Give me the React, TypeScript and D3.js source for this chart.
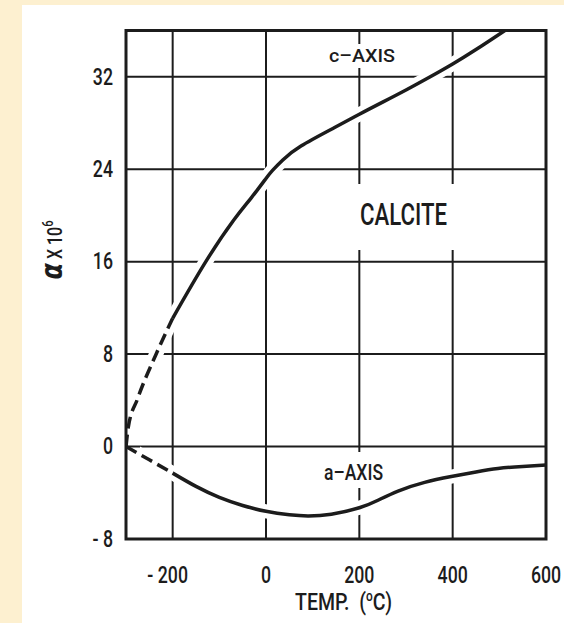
import React from "react";
import * as d3 from "d3";

const xTicks = [-200, 0, 200, 400, 600];
const yTicks = [-8, 0, 8, 16, 24, 32];
const xGrid = [-200, 0, 200, 400];
const yGrid = [0, 8, 16, 24, 32];

const cTemp = [-300, -295, -276, -236, -200, -129, -69, -32, 0, 14, 36, 75, 147, 200, 250, 300, 350, 400, 450, 512];
const cAlpha = [0, 1.7, 4.05, 7.95, 11.1, 16.0, 19.6, 21.5, 23.2, 23.9, 24.8, 26.0, 27.6, 28.75, 29.8, 30.85, 31.95, 33.1, 34.35, 36.0];

const aTemp = [-300, -250, -200, -150, -100, -50, 0, 50, 90, 140, 200, 240, 283, 340, 397, 450, 497, 550, 600];
const aAlpha = [0, -1.15, -2.3, -3.45, -4.4, -5.1, -5.6, -5.9, -6.0, -5.85, -5.3, -4.65, -3.85, -3.1, -2.6, -2.2, -1.9, -1.72, -1.6];

const dashEnd = -200;

const W = 564;
const H = 623;
const INK = "#1c1c1c";
const FONT = "Roboto, 'Liberation Sans', sans-serif";

export default function App() {
  const x = d3.scaleLinear().domain([-300, 600]).range([126, 546]);
  const y = d3.scaleLinear().domain([-8, 36]).range([539, 30.5]);

  const cPts: [number, number][] = cTemp.map((t, i) => [t, cAlpha[i]]);
  const aPts: [number, number][] = aTemp.map((t, i) => [t, aAlpha[i]]);

  const lineDash = d3.line<[number, number]>().x(d => x(d[0])).y(d => y(d[1])).curve(d3.curveMonotoneX);
  const lineSmooth = d3.line<[number, number]>().x(d => x(d[0])).y(d => y(d[1])).curve(d3.curveNatural);

  const cDash = cPts.filter(p => p[0] <= dashEnd);
  const cSolid = cPts.filter(p => p[0] >= dashEnd);
  const aDash = aPts.filter(p => p[0] <= dashEnd);
  const aSolid = aPts.filter(p => p[0] >= dashEnd);

  const [x0, x1] = x.range();
  const [y0, y1] = y.range();

  const tickLabel = (t: number) => (t < 0 ? "- " + Math.abs(t) : String(t));

  return (
    <svg width={W} height={H} style={{ position: "absolute", left: 0, top: 0 }}>
      <defs>
        <clipPath id="plot">
          <rect x={x0} y={y1} width={x1 - x0} height={y0 - y1} />
        </clipPath>
        <clipPath id="halo">
          <rect x={x0 + 14} y={y1} width={x1 - x0 - 14} height={y0 - y1} />
        </clipPath>
      </defs>
      <rect x={0} y={0} width={W} height={H} fill="#fdf0d0" />
      <rect x={22} y={5} width={W - 22} height={H - 5} fill="#ffffff" />

      {xGrid.map(t => (
        <line key={"gx" + t} x1={x(t)} x2={x(t)} y1={y1} y2={y0} stroke={INK} strokeWidth={2} />
      ))}
      {yGrid.map(t => (
        <line key={"gy" + t} x1={x0} x2={x1} y1={y(t)} y2={y(t)} stroke={INK} strokeWidth={2} />
      ))}

      <rect x={325} y={44} width={78} height={24} fill="#fff" />
      <rect x={335} y={184} width={140} height={66} fill="#fff" />
      <rect x={318} y={452} width={72} height={36} fill="#fff" />

      <g clipPath="url(#halo)" fill="none" stroke="#fff" strokeWidth={14}>
        <path d={lineDash(cDash) || ""} />
        <path d={lineSmooth(cSolid) || ""} />
        <path d={lineDash(aDash) || ""} />
        <path d={lineSmooth(aSolid) || ""} />
      </g>

      <rect x={x0} y={y1} width={x1 - x0} height={y0 - y1} fill="none" stroke={INK} strokeWidth={3} />

      <g clipPath="url(#plot)" fill="none" stroke={INK} strokeWidth={3.5}>
        <path d={lineDash(cDash) || ""} strokeDasharray="12 6" />
        <path d={lineSmooth(cSolid) || ""} />
        <path d={lineDash(aDash) || ""} strokeDasharray="12 6" />
        <path d={lineSmooth(aSolid) || ""} />
      </g>

      <g fontFamily={FONT} fill={INK} fontSize={23} fontWeight={500}>
        {yTicks.map(t => (
          <text key={"ty" + t} transform={`translate(113,${y(t)}) scale(0.77,1)`} textAnchor="end" dominantBaseline="central">
            {tickLabel(t)}
          </text>
        ))}
        {xTicks.map(t => (
          <text key={"tx" + t} transform={`translate(${x(t) + (t < 0 ? -5 : 0)},575) scale(0.77,1)`} textAnchor="middle" dominantBaseline="central">
            {tickLabel(t)}
          </text>
        ))}
      </g>

      <g fontFamily={FONT} fill={INK} fontWeight={500}>
        <text x={329} y={62} fontSize={18} textLength={66} lengthAdjust="spacingAndGlyphs">c–AXIS</text>
        <text x={360} y={225} fontSize={31} textLength={87} lengthAdjust="spacingAndGlyphs">CALCITE</text>
        <text x={324} y={480} fontSize={22} textLength={59} lengthAdjust="spacingAndGlyphs">a–AXIS</text>
        <text x={295} y={610} fontSize={23} textLength={97} lengthAdjust="spacingAndGlyphs">
          TEMP.{"\u00a0\u00a0"}(<tspan fontSize={14} dy={-9}>o</tspan><tspan dy={9}>C)</tspan>
        </text>
        <text transform="translate(62,250) rotate(-90) scale(0.8,1)" fontSize={20} textAnchor="middle">
          <tspan fontSize={30} fontStyle="italic" fontWeight="bold" fontFamily="'DejaVu Sans', sans-serif">α</tspan>
          <tspan>{" X 10"}</tspan>
          <tspan fontSize={14} dy={-9}>6</tspan>
        </text>
      </g>
    </svg>
  );
}
